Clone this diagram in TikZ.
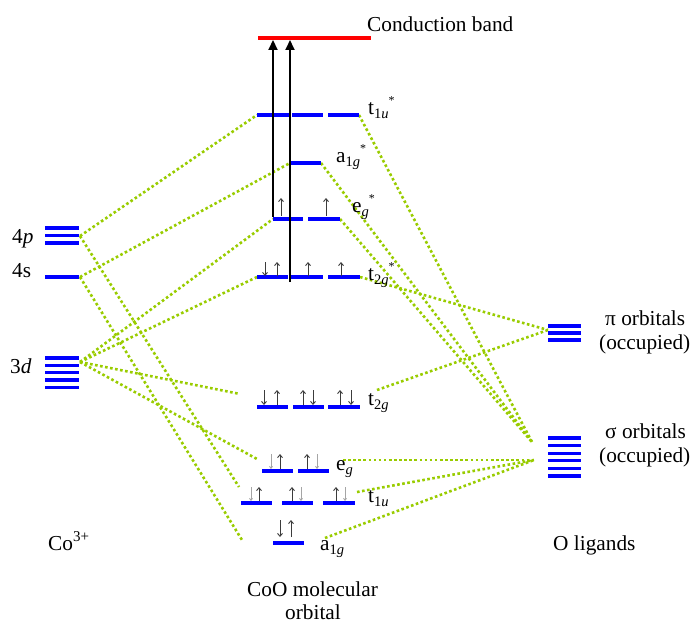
\documentclass[tikz,border=0pt]{standalone}
\usepackage{fontspec}
\setmainfont{Liberation Serif}
\usetikzlibrary{arrows.meta}
\definecolor{lvlblue}{RGB}{0,0,255}
\definecolor{dotgreen}{RGB}{153,204,0}
\definecolor{bandred}{RGB}{255,0,0}
\definecolor{elecgray}{RGB}{60,60,60}
\definecolor{elecfade}{RGB}{165,165,165}
\newcommand{\lsub}[1]{\raisebox{-4pt}{\fontsize{14.5}{14.5}\selectfont #1}}
\newcommand{\lstar}{\raisebox{10pt}{\fontsize{12}{12}\selectfont *}}
\begin{document}
\begin{tikzpicture}[x=1pt,y=-1pt,
  lvl/.style={draw=lvlblue, line width=3.3pt},
  mix/.style={draw=dotgreen, line width=2.6pt, dash pattern=on 2.6pt off 2.5pt},
  eup/.style={draw=elecgray, line width=0.9pt, -{Straight Barb[length=3pt,width=5pt]}},
  edown/.style={draw=elecgray, line width=0.9pt, -{Straight Barb[length=3pt,width=5pt]}},
  efade/.style={draw=elecfade, line width=0.9pt, -{Straight Barb[length=2pt,width=3pt]}},
  excite/.style={draw=black, line width=2.2pt, -{Triangle[length=10pt,width=9pt]}},
  lab/.style={anchor=base west, inner sep=0pt, font=\fontsize{21.3}{25}\selectfont},
]
\useasboundingbox (0,0) rectangle (693,626);

% ---------- named end points ----------
\coordinate (p4R) at (80,236);
\coordinate (s4R) at (80,277);
\coordinate (d3R) at (80,362);
\coordinate (t1uaL) at (257,115); \coordinate (t1uaR) at (359,115);
\coordinate (a1gaL) at (290,163); \coordinate (a1gaR) at (321,163);
\coordinate (egaL) at (273,219);  \coordinate (egaR) at (340,219);
\coordinate (t2gaL) at (257,277); \coordinate (t2gaR) at (360,277);
\coordinate (t2gbL) at (240,394); \coordinate (t2gbR) at (377,390);
\coordinate (egbL) at (257,459);  \coordinate (egbR) at (343,460);
\coordinate (t1ubL) at (239,487); \coordinate (t1ubR) at (357,492);
\coordinate (a1gbL) at (242,540); \coordinate (a1gbR) at (325,538);
\coordinate (piL) at (548,330);
\coordinate (sigA) at (532,442);
\coordinate (sigB) at (534,460);
\coordinate (cbA) at (273,40);  \coordinate (cbB) at (290,40);
\coordinate (exA) at (273,217); \coordinate (exB) at (290,282);

% ---------- dotted mixing lines ----------
\draw[mix] (p4R) -- (t1uaL);
\draw[mix] (p4R) -- (t1ubL);
\draw[mix] (s4R) -- (a1gaL);
\draw[mix] (s4R) -- (a1gbL);
\draw[mix] (d3R) -- (egaL);
\draw[mix] (d3R) -- (t2gaL);
\draw[mix] (d3R) -- (t2gbL);
\draw[mix] (d3R) -- (egbL);
\draw[mix] (t1uaR) -- (sigA);
\draw[mix] (a1gaR) -- (sigA);
\draw[mix] (egaR) -- (sigA);
\draw[mix] (t2gaR) -- (piL);
\draw[mix] (t2gbR) -- (piL);
\draw[mix] (egbR) -- (sigB);
\draw[mix] (t1ubR) -- (sigB);
\draw[mix] (a1gbR) -- (sigB);

% ---------- Co levels ----------
\foreach \y in {228,235.5,243} \draw[lvl] (45,\y) -- (79,\y);
\draw[lvl] (45,277) -- (79,277);
\foreach \y in {358,365.3,372.6,379.9,387.2} \draw[lvl] (45,\y) -- (79,\y);

% ---------- O levels ----------
\foreach \y in {326,333,340} \draw[lvl] (548,\y) -- (581,\y);
\foreach \y in {438,445.6,453.2,460.8,468.4,476} \draw[lvl] (548,\y) -- (581,\y);

% ---------- molecular levels ----------
\draw[draw=bandred, line width=4pt] (258,38) -- (371,38);
\foreach \a/\b in {257/289,292/323,328/359} \draw[lvl] (\a,115) -- (\b,115);
\draw[lvl] (290,163) -- (321,163);
\foreach \a/\b in {273/303,308/340} \draw[lvl] (\a,219) -- (\b,219);
\foreach \a/\b in {257/288,291/323,328/360} \draw[lvl] (\a,277) -- (\b,277);
\foreach \a/\b in {257/288,293/324,328/360} \draw[lvl] (\a,407) -- (\b,407);
\foreach \a/\b in {262/293,298/329} \draw[lvl] (\a,471) -- (\b,471);
\foreach \a/\b in {241/272,282/313,323/355} \draw[lvl] (\a,503) -- (\b,503);
\draw[lvl] (273,543) -- (304,543);

% ---------- electrons ----------
% t2g*
\draw[edown] (265,262) -- (265,276);
\foreach \x in {277,308,341} \draw[eup] (\x,276) -- (\x,262);
% eg*
\foreach \x in {281,326} \draw[eup] (\x,216) -- (\x,198);
% t2g
\foreach \x in {264,313,351} \draw[edown] (\x,390) -- (\x,405);
\foreach \x in {277,303,340} \draw[eup] (\x,405) -- (\x,390);
% eg
\foreach \x in {271,317} \draw[efade] (\x,454) -- (\x,469);
\foreach \x in {280,307} \draw[eup] (\x,469) -- (\x,454);
% t1u
\foreach \x in {251,301,345} \draw[efade] (\x,487) -- (\x,501);
\foreach \x in {259,292,336} \draw[eup] (\x,501) -- (\x,487);
% a1g
\draw[edown] (280,520) -- (280,537);
\draw[eup] (291,537) -- (291,520);

% ---------- excitation arrows ----------
\draw[excite] (exA) -- (cbA);
\draw[excite, line width=1.8pt] (exB) -- (cbB);

% ---------- labels ----------
\node[lab] (lcb) at (367,32) {Conduction band};
\node[lab] (lt1ua) at (368,114) {t\lsub{1\textit{u}}\lstar};
\node[lab] (la1ga) at (336,162) {a\lsub{1\textit{g}}\lstar};
\node[lab] (lega) at (352,212) {e\lsub{\textit{g}}\lstar};
\node[lab] (lt2ga) at (368,280) {t\lsub{2\textit{g}}\lstar};
\node[lab] (lt2gb) at (368,405) {t\lsub{2\textit{g}}};
\node[lab] (legb) at (336,470) {e\lsub{\textit{g}}};
\node[lab] (lt1ub) at (368,502) {t\lsub{1\textit{u}}};
\node[lab] (la1gb) at (320,550) {a\lsub{1\textit{g}}};

\node[lab] (l4p) at (12,243) {4\textit{p}};
\node[lab] (l4s) at (12,277) {4s};
\node[lab] (l3d) at (10,373) {3\textit{d}};
\node[lab] (lco) at (48,550) {Co\raisebox{9pt}{\fontsize{15}{15}\selectfont 3+}};

\node[lab] (lpi) at (605,325) {π orbitals};
\node[lab] (lpio) at (599,349) {(occupied)};
\node[lab] (lsig) at (605,438) {σ orbitals};
\node[lab] (lsigo) at (599,462) {(occupied)};
\node[lab] (lol) at (553,550) {O ligands};

\node[lab] (lcoo) at (247,596) {CoO molecular};
\node[lab] (lorb) at (285,619) {orbital};
\end{tikzpicture}
\end{document}
